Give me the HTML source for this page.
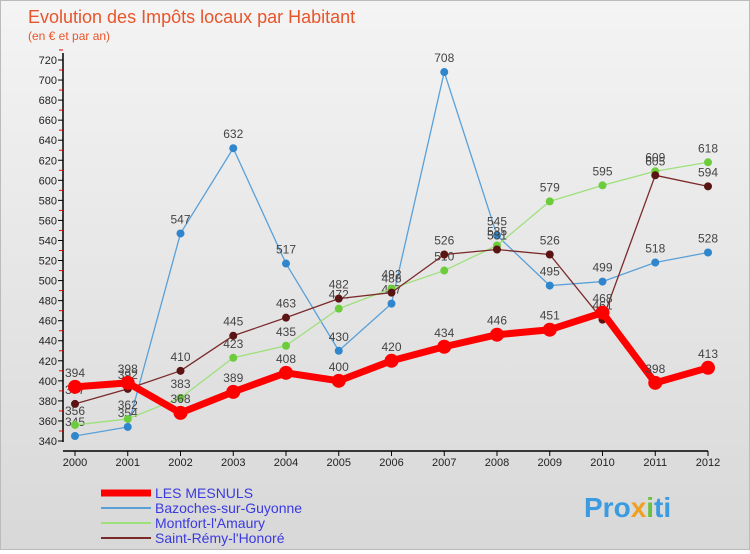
<!DOCTYPE html>
<html><head><meta charset="utf-8"><style>
body{margin:0;width:750px;height:550px;overflow:hidden;font-family:"Liberation Sans","DejaVu Sans",sans-serif}
#wrap{position:relative;width:748px;height:548px;border:1px solid #bbb;background:linear-gradient(#f4f4f4,#d8d8d8)}
</style></head><body>
<div id="wrap">
<svg id="chart" width="748" height="548" xmlns="http://www.w3.org/2000/svg">
<text x="27" y="22" font-size="18" fill="#e8552a">Evolution des Impôts locaux par Habitant</text>
<text x="27" y="39" font-size="12" fill="#e8552a">(en € et par an)</text>
<g id="axes"></g><g id="series"></g><g id="legend"></g>
<text x="583" y="516" font-size="28" font-weight="bold" fill="#3a9be0">Pro<tspan fill="#f0a020">x</tspan><tspan fill="#6ac040">i</tspan>ti</text>
</svg></div>
<script>
const years=[2000,2001,2002,2003,2004,2005,2006,2007,2008,2009,2010,2011,2012];
const mesnuls=[394,398,368,389,408,400,420,434,446,451,468,398,413];
const bazoches=[345,354,547,632,517,430,477,708,545,495,499,518,528];
const montfort=[356,362,383,423,435,472,492,510,535,579,595,609,618];
const stremy=[377,392,410,445,463,482,488,526,531,526,461,605,594];
const yTicks=[340,360,380,400,420,440,460,480,500,520,540,560,580,600,620,640,660,680,700,720];
const seriesNames=["LES MESNULS","Bazoches-sur-Guyonne","Montfort-l'Amaury","Saint-Rémy-l'Honoré"];
const NS="http://www.w3.org/2000/svg";
const X=i=>74+i*(707-74)/12;
const Y=v=>440-(v-340)*(381/380);
function mk(t,a,p){const e=document.createElementNS(NS,t);for(const k in a)e.setAttribute(k,a[k]);p.appendChild(e);return e;}
const ax=document.getElementById('axes');
let l=mk('line',{x1:62,y1:52,x2:62,y2:441,stroke:'#000','stroke-width':1.5},ax);


l=mk('line',{x1:62,y1:450,x2:707,y2:450,stroke:'#000','stroke-width':1.5},ax);


yTicks.forEach(v=>{
 mk('line',{x1:57,y1:Y(v),x2:62,y2:Y(v),stroke:'#000'},ax);
 mk('line',{x1:58,y1:Y(v+10),x2:62,y2:Y(v+10),stroke:'#e00'},ax);
 const t=mk('text',{x:56,y:Y(v)+4,'font-size':11,'text-anchor':'end',fill:'#222'},ax);t.textContent=v;
 
 
});
years.forEach((y,i)=>{
 mk('line',{x1:X(i),y1:450,x2:X(i),y2:455,stroke:'#000'},ax);
 const t=mk('text',{x:X(i),y:465,'font-size':11,'text-anchor':'middle',fill:'#222'},ax);t.textContent=y;
 
 
});
const sg=document.getElementById('series');
const defs=[[bazoches,'#5aa0d8','#2f86cc',1.3,4],[montfort,'#9ee07a','#6ccc3c',1.3,4],[stremy,'#7a2a2a','#5a1414',1.3,4],[mesnuls,'#ff0000','#ff0000',7,7]];
const names=['bazoches','montfort','saint-remy','les-mesnuls'];
defs.forEach((d,si)=>{
 const g=mk('g',{},sg);
 
 
 const pts=d[0].map((v,i)=>X(i)+','+Y(v)).join(' ');
 mk('polyline',{points:pts,fill:'none',stroke:d[1],'stroke-width':d[3],'stroke-linejoin':'round'},g);
 d[0].forEach((v,i)=>{
  const c=mk('circle',{cx:X(i),cy:Y(v),r:d[4],fill:d[2]},g);
  
  
  const t=mk('text',{x:X(i),y:Y(v)-10,'font-size':12,'text-anchor':'middle',fill:'#444'},g);t.textContent=v;
  
  
 });
});
const lg=document.getElementById('legend');
const lc=['#ff0000','#5aa0d8','#9ee07a','#7a2a2a'],lw=[7,2,2,2];
seriesNames.forEach((n,i)=>{
 const y=492+i*15;
 const g=mk('g',{},lg);
 
 
 mk('line',{x1:100,y1:y,x2:150,y2:y,stroke:lc[i],'stroke-width':lw[i]},g);
 const t=mk('text',{x:154,y:y+5,'font-size':14,fill:'#3a3ae0'},g);t.textContent=n;
});
</script></body></html>
